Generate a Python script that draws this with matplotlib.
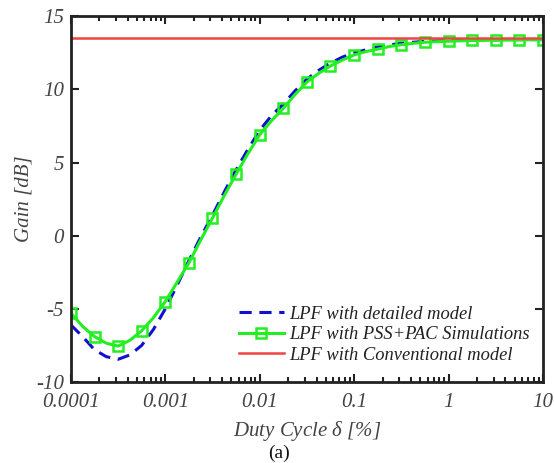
import numpy as np
import matplotlib
matplotlib.use("Agg")
import matplotlib.pyplot as plt
from matplotlib.ticker import LogLocator, FixedLocator, FixedFormatter, NullFormatter

# Data (duty cycle in %, gain in dB), sampled every 1/8 decade
duty = [1.0e-4, 1.33e-4, 1.78e-4, 2.37e-4, 3.16e-4, 4.22e-4, 5.62e-4, 7.50e-4,
        1.0e-3, 1.33e-3, 1.78e-3, 2.37e-3, 3.16e-3, 4.22e-3, 5.62e-3, 7.50e-3,
        1.0e-2, 1.33e-2, 1.78e-2, 2.37e-2, 3.16e-2, 4.22e-2, 5.62e-2, 7.50e-2,
        1.0e-1, 1.33e-1, 1.78e-1, 2.37e-1, 3.16e-1, 4.22e-1, 5.62e-1, 7.50e-1,
        1.0, 1.33, 1.78, 2.37, 3.16, 4.22, 5.62, 7.50, 10.0]
gain_detailed = [-6.1, -6.9, -7.8, -8.27, -8.45, -8.15, -7.5, -6.4,
                 -5.0, -3.4, -1.7, -0.1, 1.4, 3.0, 4.5, 5.9,
                 7.2, 8.2, 9.0, 9.9, 10.7, 11.3, 11.8, 12.2,
                 12.5, 12.7, 12.9, 13.03, 13.15, 13.22, 13.28, 13.31,
                 13.33, 13.35, 13.37, 13.38, 13.39, 13.4, 13.4, 13.4, 13.4]
gain_pss = [-5.3, -6.2, -6.9, -7.35, -7.55, -7.15, -6.5, -5.6,
            -4.5, -3.2, -1.85, -0.3, 1.2, 2.75, 4.2, 5.6,
            6.9, 7.85, 8.7, 9.65, 10.5, 11.1, 11.6, 12.0,
            12.35, 12.58, 12.75, 12.93, 13.05, 13.15, 13.22, 13.26,
            13.29, 13.32, 13.34, 13.35, 13.36, 13.37, 13.38, 13.39, 13.4]
gain_conv = 13.5

xticks = [1e-4, 1e-3, 1e-2, 1e-1, 1, 10]
xticklabels = ["0.0001", "0.001", "0.01", "0.1", "1", "10"]
yticks = [-10, -5, 0, 5, 10, 15]
yticklabels = ["-10", "-5", "0", "5", "10", "15"]

plt.rcParams['font.family'] = ['Liberation Serif', 'DejaVu Serif']
plt.rcParams['mathtext.fontset'] = 'custom'
plt.rcParams['mathtext.it'] = 'Liberation Serif:italic'
plt.rcParams['mathtext.rm'] = 'Liberation Serif'

fig = plt.figure(figsize=(5.54, 4.63), dpi=100)
ax = fig.add_axes([0.128, 0.175, 0.852, 0.79])

ax.plot(duty, gain_detailed, color='#1010d0', linestyle=(0, (4, 2.5)), linewidth=2.2,
        label='LPF with detailed model')
ax.plot(duty, gain_pss, color='#22ee22', linewidth=2.2, marker='s', markersize=7,
        markevery=2, markerfacecolor='none', markeredgecolor='#22ee22',
        markeredgewidth=1.8, label='LPF with PSS+PAC Simulations')
ax.plot([duty[0], duty[-1]], [gain_conv, gain_conv], color='#ee4444', linewidth=1.8,
        label='LPF with Conventional model')

ax.set_xscale('log')
ax.set_xlim(1e-4, 10)
ax.set_ylim(-10, 15)
ax.xaxis.set_major_locator(FixedLocator(xticks))
ax.xaxis.set_major_formatter(FixedFormatter(xticklabels))
ax.xaxis.set_minor_locator(LogLocator(base=10, subs=np.arange(2, 10)))
ax.xaxis.set_minor_formatter(NullFormatter())
ax.yaxis.set_major_locator(FixedLocator(yticks))
ax.yaxis.set_major_formatter(FixedFormatter(yticklabels))

ax.tick_params(which='both', direction='in', top=True, right=True, width=1.5,
               colors='#222222', labelcolor='#444444', labelsize=15)
ax.tick_params(which='major', length=6)
ax.tick_params(which='minor', length=3.5)
ax.tick_params(axis='x', which='major', pad=8)
ax.tick_params(axis='y', which='major', pad=5)
for lab in ax.get_xticklabels() + ax.get_yticklabels():
    lab.set_fontstyle('italic')
for sp in ax.spines.values():
    sp.set_linewidth(2)
    sp.set_color('#222222')

ax.set_ylabel('Gain [dB]', fontsize=15, fontstyle='italic', color='#444444', labelpad=2)
ax.set_xlabel('Duty Cycle $\\delta$ [%]', fontsize=15, fontstyle='italic', color='#444444', labelpad=5)

leg = ax.legend(loc='lower right', frameon=False, fontsize=13.3, handlelength=2.45,
                handletextpad=0.3, labelspacing=0.18, borderaxespad=0.3,
                bbox_to_anchor=(1.0, 0.015))
for t in leg.get_texts():
    t.set_fontstyle('italic')
    t.set_color('#222222')

fig.text(0.503, 0.003, '(a)', fontsize=14, ha='center', va='bottom', color='#111111')

fig.savefig('out.png', dpi=100)
